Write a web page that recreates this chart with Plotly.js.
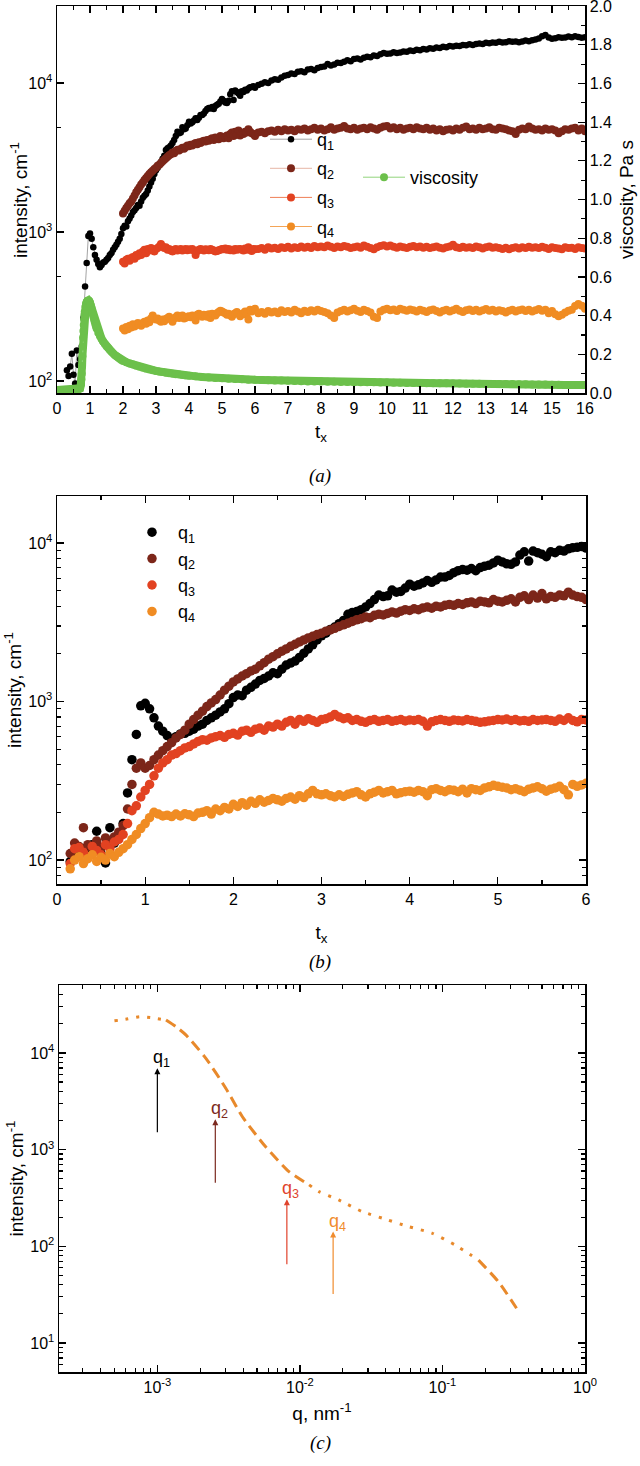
<!DOCTYPE html>
<html>
<head>
<meta charset="utf-8">
<script src="https://cdn.plot.ly/plotly-3.0.1.min.js"></script>
<style>html,body{margin:0;padding:0;background:#fff;}#plot{width:640px;height:1466px;}</style>
</head>
<body>
<div id="plot"></div>
<script>
// ---------- DATA ----------
const tEarly = [0.15,0.2,0.25,0.3,0.35,0.4,0.45,0.5,0.55,0.6,
0.65,0.7,0.75,0.8,0.85,0.9,0.95,1,1.05,1.1,
1.15,1.2,1.25,1.3,1.35,1.4,1.45,1.5,1.55,1.6,
1.65,1.7,1.75,1.8,1.85,1.9,1.95,2,2.05,2.1,
2.15,2.2,2.25,2.3,2.35,2.4,2.45,2.5,2.55,2.6,
2.65,2.7,2.75,2.8,2.85,2.9,2.95,3,3.05,3.1,
3.15,3.2,3.25,3.3,3.35,3.4,3.45,3.5,3.55,3.6,
3.65,3.7,3.75,3.8,3.85,3.9,3.95,4,4.05,4.1,
4.15,4.2,4.25,4.3,4.35,4.4,4.45,4.5,4.55,4.6,
4.65,4.7,4.75,4.8,4.85,4.9,4.95,5,5.05,5.1,
5.15,5.2,5.25,5.3,5.35,5.4,5.45,5.5,5.55,5.6,
5.65,5.7,5.75,5.8,5.85,5.9,5.95,6];
const tLate = [6.1,6.2,6.3,6.4,6.5,6.6,6.7,6.8,6.9,7,
7.1,7.2,7.3,7.4,7.5,7.6,7.7,7.8,7.9,8,
8.1,8.2,8.3,8.4,8.5,8.6,8.7,8.8,8.9,9,
9.1,9.2,9.3,9.4,9.5,9.6,9.7,9.8,9.9,10,
10.1,10.2,10.3,10.4,10.5,10.6,10.7,10.8,10.9,11,
11.1,11.2,11.3,11.4,11.5,11.6,11.7,11.8,11.9,12,
12.1,12.2,12.3,12.4,12.5,12.6,12.7,12.8,12.9,13,
13.1,13.2,13.3,13.4,13.5,13.6,13.7,13.8,13.9,14,
14.1,14.2,14.3,14.4,14.5,14.6,14.7,14.8,14.9,15,
15.1,15.2,15.3,15.4,15.5,15.6,15.7,15.8,15.9,16];

const q1Early = [98,105,112,118,108,125,152,110,96,160,
128,140,170,265,430,620,940,975,900,790,
700,650,610,580,600,625,630,650,670,700,
720,760,790,820,860,900,970,1060,1100,1090,
1180,1230,1290,1360,1400,1450,1520,1500,1600,1700,
1750,1800,1900,2020,2150,2280,2450,2600,2700,2850,
2950,3100,3250,3550,3650,3700,3800,3950,4150,4400,
4700,4600,4650,5050,4900,4950,5200,5500,5350,5450,
5600,5800,5650,5850,6100,6100,6250,6500,6700,6800,
6750,6900,6700,7000,7150,7250,7500,7800,7600,7400,
7350,7600,8400,8800,7700,8900,8700,8500,8200,8800,
8700,9000,8900,9200,9350,9400,9500,9300];
const q1Late = [9700,9900,10100,10000,10400,10600,10500,10900,11200,11300,
11600,11500,11900,12000,11800,12300,12400,12200,12600,12800,
12900,13400,13100,13300,13700,13600,13900,14200,14000,14500,
14600,14400,14800,15000,14900,15300,15200,15600,15900,15700,
15800,16100,15900,16000,16300,16200,16500,16400,16700,16600,
16900,16800,17100,17000,17300,17200,17500,17400,17700,17600,
17800,17700,18000,17900,18200,18000,18300,18400,18300,18600,
18500,18700,18600,18900,18700,18800,19100,18900,19000,18800,
19000,19300,19100,19400,19600,19900,20600,21000,20200,19800,
20000,20300,20100,20200,20500,20300,20600,20400,20100,20300];

const q2Early = [110,128,122,160,125,118,132,120,138,128,
140,150,165,210,300,380,410,380,395,430,
460,490,520,550,590,620,660,720,770,820,
870,930,980,1030,1100,1180,1250,1330,1390,1450,
1500,1560,1600,1680,1760,1850,1920,2000,2080,2150,
2230,2300,2380,2450,2520,2580,2650,2700,2780,2830,
2900,2980,3050,3120,3200,3280,3330,3420,3380,3500,
3560,3520,3600,3680,3620,3720,3800,3760,3850,3800,
3900,3950,3880,4000,3950,4050,4100,4050,4150,4100,
4200,4250,4150,4300,4250,4200,4400,4300,4250,4350,
4450,4250,4550,4650,4400,4700,4500,4800,4450,4600,
4550,4700,4650,4900,4700,4600,4550,4400];
const q2Late = [4650,4700,4600,4750,4800,4700,4850,4750,4900,4800,
4850,4750,4900,4850,4950,4800,4900,5000,4850,4950,
4800,4900,5050,4850,4950,5000,5150,4950,4900,5000,
4850,4950,5000,4900,5050,4950,4850,5000,5100,5150,
4950,5050,4900,5000,4850,4950,5000,4900,5050,4950,
4900,5000,4850,4950,4800,4900,4750,4850,4900,4800,
4950,4850,5000,5100,4900,4950,4850,5000,4900,4950,
5050,4900,4850,5000,4950,4900,4800,4750,4550,4850,
4950,4900,5100,4950,4850,4900,4800,4950,4850,4900,
4800,4600,4750,4900,4850,4950,5000,4800,4950,4750];

const q3Early = [95,118,120,112,105,122,115,108,125,118,
130,135,145,170,205,220,250,275,300,340,
380,410,430,460,470,490,510,520,540,560,
575,570,590,600,610,595,620,630,615,650,
660,640,670,680,660,700,690,720,700,740,
760,720,770,750,780,760,740,770,780,800,
830,800,780,790,760,770,750,740,760,770,
750,760,770,750,760,770,755,765,760,770,
750,700,745,760,770,760,750,765,760,755,
770,760,750,740,745,755,760,770,765,775,
760,770,755,760,750,770,760,765,770,760,
750,775,760,790,760,745,770,765];
const q3Late = [770,780,760,790,775,785,770,790,780,795,
775,790,780,800,785,795,780,805,790,800,
790,810,795,780,800,790,805,795,780,790,
800,785,810,795,780,765,790,805,815,800,
810,795,785,800,790,780,795,805,790,800,
785,795,780,790,800,785,775,790,800,820,
790,780,795,785,790,780,800,790,775,790,
800,785,790,780,770,785,765,780,790,775,
790,780,795,785,790,780,795,785,770,790,
780,775,765,790,780,785,770,790,780,775];

const q4Early = [88,100,105,95,102,108,98,104,100,110,
105,112,118,125,135,145,158,170,185,200,
195,190,192,188,195,190,196,193,188,198,
200,205,195,210,205,215,210,225,218,230,
222,235,228,240,232,238,245,240,235,245,
250,242,255,248,262,275,262,258,262,255,
250,258,252,260,265,270,258,250,262,268,
275,265,270,275,262,266,270,272,268,275,
270,255,278,282,275,270,278,276,270,280,
265,282,278,275,285,290,296,292,288,285,
278,282,276,270,280,285,290,282,272,280,
285,292,278,258,300,292,298,305];
const q4Late = [285,290,282,295,288,292,285,298,290,295,
288,300,292,285,296,290,298,292,300,295,
290,285,275,265,288,295,300,292,298,305,
296,290,300,295,288,270,265,292,300,305,
298,302,295,305,300,296,302,298,292,300,
296,290,298,302,295,288,296,300,292,298,
305,296,290,298,302,295,300,292,298,304,
296,300,292,298,295,288,296,300,292,298,
302,295,300,292,298,304,296,300,285,295,
280,272,278,288,296,300,318,328,320,305];

const visT = [0,0.1,0.2,0.3,0.4,0.5,0.6,0.65,0.7,
0.72,0.73,0.74,0.75,0.76,0.77,0.78,0.79,0.8,0.81,0.82,0.83,0.84,
0.86,0.88,0.9,0.92,0.94,0.96,0.98,1,1.02,1.04,1.06,1.08,1.1,1.12,1.14,1.16,1.18,1.2,
1.25,1.3,1.35,1.4,1.45,1.5,1.55,1.6,1.65,1.7,1.75,1.8,1.85,1.9,1.95,2,
2.1,2.2,2.3,2.4,2.5,2.6,2.7,2.8,2.9,3,3.1,3.2,3.3,3.4,3.5,3.6,3.7,3.8,3.9,4,
4.2,4.4,4.6,4.8,5,5.2,5.4,5.6,5.8,6,
6.2,6.4,6.6,6.8,7,7.2,7.4,7.6,7.8,8,
8.2,8.4,8.6,8.8,9,9.2,9.4,9.6,9.8,10,
10.2,10.4,10.6,10.8,11,11.2,11.4,11.6,11.8,12,
12.2,12.4,12.6,12.8,13,13.2,13.4,13.6,13.8,14,
14.2,14.4,14.6,14.8,15,15.2,15.4,15.6,15.8,16];
const visVal = [0.015,0.015,0.015,0.015,0.016,0.016,0.017,0.018,0.025,
0.04,0.052,0.07,0.1,0.14,0.19,0.24,0.285,0.32,0.352,0.38,0.402,0.42,
0.445,0.46,0.47,0.475,0.478,0.478,0.474,0.466,0.455,0.442,0.426,0.41,0.395,0.382,0.37,0.357,0.345,0.334,
0.312,0.295,0.28,0.266,0.253,0.242,0.232,0.222,0.213,0.205,0.197,0.19,0.183,0.177,0.171,0.166,
0.159,0.153,0.147,0.141,0.136,0.131,0.126,0.122,0.118,0.114,0.111,0.108,0.105,0.102,0.099,0.097,0.095,0.093,0.091,0.089,
0.086,0.083,0.08,0.078,0.076,0.074,0.072,0.071,0.069,0.068,
0.067,0.066,0.065,0.064,0.063,0.062,0.061,0.06,0.06,0.059,
0.058,0.058,0.057,0.057,0.056,0.056,0.055,0.055,0.054,0.054,
0.053,0.053,0.052,0.052,0.051,0.051,0.05,0.05,0.05,0.049,
0.049,0.048,0.048,0.048,0.047,0.047,0.046,0.046,0.046,0.045,
0.045,0.044,0.044,0.044,0.043,0.043,0.042,0.042,0.042,0.041];

// panel (c): scattering curve
const curveQ = [5.0e-4,6.0e-4,7.5e-4,9.0e-4,1.15e-3,1.35e-3,1.59e-3,2.19e-3,3.02e-3,3.95e-3,5.75e-3,8.38e-3,
1.16e-2,1.36e-2,1.87e-2,2.73e-2,3.98e-2,5.78e-2,8.42e-2,0.123,0.179,0.247,0.331];
const curveI = [21500,22300,23700,23200,21900,18700,15300,8800,4320,2190,1070,593,
432,368,302,229,191,160,137,103,72,43,22.9];
const segStart = [0,4,12,20];
const segEnd = [4,12,20,22];
const segDash = ['3px,8px','11px,6px','3px,8px','11px,6px'];

const arrowQ = [1.0e-3,2.55e-3,8.1e-3,1.71e-2];
const arrowTop = [6950,2060,307,142];
const arrowBottom = [1460,439,63,31];
const arrowLabels = ['q<sub>1</sub>','q<sub>2</sub>','q<sub>3</sub>','q<sub>4</sub>'];

const seriesNames = ['q<sub>1</sub>','q<sub>2</sub>','q<sub>3</sub>','q<sub>4</sub>'];

// tick labels
const intTickVals = [10,100,1000,10000];
const intTickText = ['10<sup>1</sup>','10<sup>2</sup>','10<sup>3</sup>','10<sup>4</sup>'];
const qTickVals = [0.001,0.01,0.1,1];
const qTickText = ['10<sup>-3</sup>','10<sup>-2</sup>','10<sup>-1</sup>','10<sup>0</sup>'];
const minorA = [500,5000];

// ---------- STYLE ----------
const FONT = 'Liberation Sans, Arial, sans-serif';
const markerColors = ['#000000','#7c2619','#e24221','#f08c23'];
const lineColors = ['#8c8c8c','#e6b6a6','#ef7f55','#f4a557'];
const arrowColors = ['#000000','#7c2a20','#e0432c','#f08c2e'];
const green = '#6cc04b';
const curveColor = '#e8892b';

const W = 640, H = 1466;
const px = v => v / W;
const py = v => 1 - v / H;

const tAll = tEarly.concat(tLate);
const qAll = [q1Early.concat(q1Late), q2Early.concat(q2Late), q3Early.concat(q3Late), q4Early.concat(q4Late)];

function sel(t, v, lo, hi) {
  const x = [], y = [];
  for (let i = 0; i < t.length; i++) {
    if (t[i] >= lo - 1e-9 && t[i] <= hi + 1e-9) { x.push(t[i]); y.push(v[i]); }
  }
  return {x, y};
}

const traces = [];
const startA = [0.3, 2, 2, 2];
// panel (a)
for (let k = 0; k < 4; k++) {
  const d = sel(tAll, qAll[k], startA[k], 16);
  traces.push({
    x: d.x, y: d.y, xaxis: 'x', yaxis: 'y', type: 'scatter', mode: 'lines+markers',
    name: seriesNames[k], legend: 'legend', legendgroup: 'a' + k,
    marker: {color: markerColors[k], size: k === 0 ? 6.5 : 8},
    line: {color: lineColors[k], width: k === 0 ? 0.8 : 1}
  });
}
// viscosity: thick band + legend-bearing marker trace (same data)
traces.push({
  x: visT, y: visVal, xaxis: 'x', yaxis: 'y2', type: 'scatter', mode: 'lines',
  showlegend: false, line: {color: green, width: 8}
});
traces.push({
  x: visT, y: visVal, xaxis: 'x', yaxis: 'y2', type: 'scatter', mode: 'lines+markers',
  name: 'viscosity', legend: 'legend2',
  marker: {color: green, size: 8}, line: {color: '#92d47c', width: 1}
});
// panel (b)
for (let k = 0; k < 4; k++) {
  const d = sel(tAll, qAll[k], 0, 6);
  traces.push({
    x: d.x, y: d.y, xaxis: 'x2', yaxis: 'y3', type: 'scatter', mode: 'markers',
    name: seriesNames[k], legend: 'legend3', legendgroup: 'b' + k,
    marker: {color: markerColors[k], size: 9.5}
  });
}
// panel (c)
for (let s = 0; s < segStart.length; s++) {
  traces.push({
    x: curveQ.slice(segStart[s], segEnd[s] + 1), y: curveI.slice(segStart[s], segEnd[s] + 1),
    xaxis: 'x3', yaxis: 'y4', type: 'scatter', mode: 'lines', showlegend: false,
    line: {color: curveColor, width: 3, dash: segDash[s], shape: 'spline', smoothing: 0.6}
  });
}

const axBase = {
  showline: true, linecolor: '#000', linewidth: 1.5, ticks: 'inside', ticklen: 7, tickwidth: 1.2,
  tickcolor: '#000', showgrid: false, zeroline: false, mirror: 'ticks', ticklabeloverflow: 'allow',
  tickfont: {family: FONT, size: 16, color: '#000'}
};
const titleFont = {family: FONT, size: 19, color: '#000'};
const minorLin = d => ({ticks: 'inside', dtick: d, ticklen: 4, tickwidth: 1.2, tickcolor: '#000', showgrid: false});
const minorLog = {ticks: 'inside', dtick: 'D1', ticklen: 4, tickwidth: 1.2, tickcolor: '#000', showgrid: false};
const capFont = {family: 'Liberation Serif, Times New Roman, serif', size: 19, color: '#000'};

const annotations = [
  {xref: 'paper', yref: 'paper', x: 0.5, y: py(463), text: '<i>(a)</i>', showarrow: false, font: capFont},
  {xref: 'paper', yref: 'paper', x: 0.5, y: py(962), text: '<i>(b)</i>', showarrow: false, font: capFont},
  {xref: 'paper', yref: 'paper', x: 0.5, y: py(1456), text: '<i>(c)</i>', showarrow: false, font: capFont},
  {xref: 'paper', yref: 'paper', x: px(19), y: py(200), text: 'intensity, cm<sup>-1</sup>', textangle: -90,
   showarrow: false, xanchor: 'center', yanchor: 'middle', font: titleFont}
];
for (let k = 0; k < 4; k++) {
  annotations.push({
    xref: 'x3', yref: 'y4', axref: 'x3', ayref: 'y4',
    x: Math.log10(arrowQ[k]), y: Math.log10(arrowTop[k]),
    ax: Math.log10(arrowQ[k]), ay: Math.log10(arrowBottom[k]),
    text: '', showarrow: true, arrowhead: 2, arrowsize: 1, arrowwidth: 1.2, arrowcolor: arrowColors[k]
  });
  annotations.push({
    xref: 'x3', yref: 'y4', x: Math.log10(arrowQ[k]), y: Math.log10(arrowTop[k]),
    text: arrowLabels[k], showarrow: false, xanchor: 'center', yanchor: 'bottom', xshift: 4, yshift: -4,
    font: {family: FONT, size: 18, color: arrowColors[k]}
  });
}

const layout = {
  width: W, height: H, margin: {l: 0, r: 0, t: 0, b: 0},
  paper_bgcolor: '#fff', plot_bgcolor: 'rgba(0,0,0,0)',
  font: {family: FONT, color: '#000'},
  showlegend: true,
  xaxis: Object.assign({}, axBase, {domain: [px(57), px(585)], anchor: 'y', range: [0, 16], dtick: 1, tick0: 0,
    minor: minorLin(0.5), title: {text: 't<sub>x</sub>', font: titleFont, standoff: 9}}),
  yaxis: Object.assign({}, axBase, {mirror: false, domain: [py(393), py(6)], anchor: 'x', type: 'log', range: [1.919, 4.517],
    tickmode: 'array', tickvals: intTickVals, ticktext: intTickText,
    minor: {ticks: 'inside', tickmode: 'array', tickvals: minorA, ticklen: 4, tickwidth: 1.2, tickcolor: '#000'}}),
  yaxis2: Object.assign({}, axBase, {mirror: false, overlaying: 'y', side: 'right', anchor: 'x', range: [0, 2.0005],
    dtick: 0.2, tick0: 0, tickformat: '.1f', minor: minorLin(0.1),
    title: {text: 'viscosity, Pa s', font: titleFont, standoff: 8}}),
  xaxis2: Object.assign({}, axBase, {domain: [px(57), px(586)], anchor: 'y3', range: [0, 6], dtick: 1, tick0: 0,
    minor: minorLin(0.5), title: {text: 't<sub>x</sub>', font: titleFont, standoff: 19}}),
  yaxis3: Object.assign({}, axBase, {domain: [py(884), py(496)], anchor: 'x2', type: 'log', range: [1.849, 4.297],
    tickmode: 'array', tickvals: intTickVals, ticktext: intTickText, minor: minorLog,
    title: {text: 'intensity, cm<sup>-1</sup>', font: titleFont, standoff: 1}}),
  xaxis3: Object.assign({}, axBase, {domain: [px(59), px(585)], anchor: 'y4', type: 'log', range: [-3.69, 0],
    tickmode: 'array', tickvals: qTickVals, ticktext: qTickText, minor: minorLog,
    title: {text: 'q, nm<sup>-1</sup>', font: titleFont, standoff: 12}}),
  yaxis4: Object.assign({}, axBase, {domain: [py(1372), py(985)], anchor: 'x3', type: 'log', range: [0.70, 4.703],
    tickmode: 'array', tickvals: intTickVals, ticktext: intTickText, minor: minorLog,
    title: {text: 'intensity, cm<sup>-1</sup>', font: titleFont, standoff: 1}}),
  legend: {x: px(265), y: py(121), xanchor: 'left', yanchor: 'top', bgcolor: 'rgba(0,0,0,0)', borderwidth: 0,
    font: {family: FONT, size: 18, color: '#000'}, itemwidth: 42, tracegroupgap: 2.7, traceorder: 'grouped'},
  legend2: {x: px(358), y: py(159), xanchor: 'left', yanchor: 'top', bgcolor: 'rgba(0,0,0,0)', borderwidth: 0,
    font: {family: FONT, size: 18, color: '#000'}, itemwidth: 42},
  legend3: {x: px(126), y: py(514), xanchor: 'left', yanchor: 'top', bgcolor: 'rgba(0,0,0,0)', borderwidth: 0,
    font: {family: FONT, size: 18, color: '#000'}, itemwidth: 42, tracegroupgap: 1, traceorder: 'normal'},
  annotations: annotations
};

Plotly.newPlot('plot', traces, layout, {displayModeBar: false, staticPlot: true});
</script>
</body>
</html>
